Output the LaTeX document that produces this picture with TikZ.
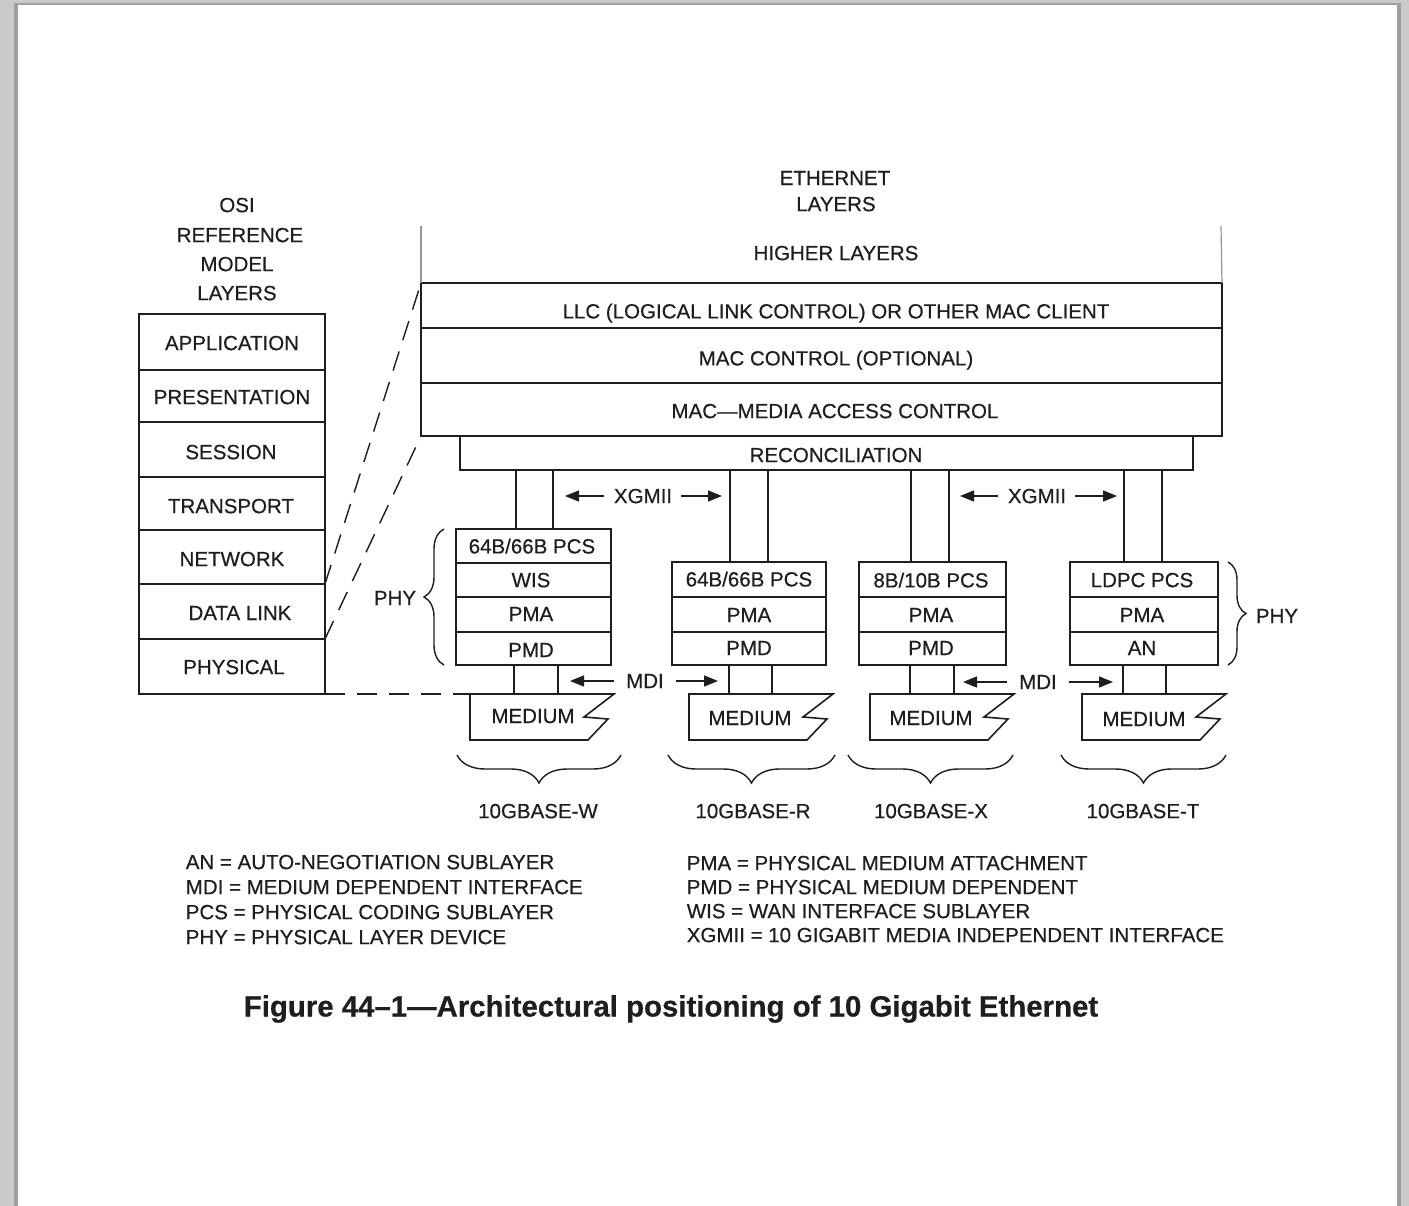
\documentclass[tikz,border=0pt]{standalone}
\usepackage{fontspec}
\setmainfont{Liberation Sans}[FakeBold=0.5]
\usetikzlibrary{decorations.pathreplacing,arrows.meta}
\definecolor{ink}{RGB}{30,30,30}
\definecolor{pagegrey}{RGB}{202,202,202}
\definecolor{edgegrey}{RGB}{160,160,160}
\definecolor{hlgrey}{RGB}{150,150,150}
\begin{document}
\begin{tikzpicture}[x=1pt,y=-1pt,line width=1.6pt,color=ink,
  box/.style={draw,rectangle,inner sep=0pt,outer sep=0pt},
  lbl/.style={inner sep=0pt,text depth=0pt,font=\fontsize{20.5}{24}\selectfont},
  leg/.style={lbl,anchor=west},
  captext/.style={inner sep=0pt,font=\fontsize{29.4}{34}\selectfont\bfseries},
  dashline/.style={line width=1.4pt,dash pattern=on 20pt off 12pt},
  arr/.style={line width=1.4pt,-{Triangle[length=14pt,width=11pt]}},
  hl/.style={draw=hlgrey,line width=1.2pt},
  brc/.style={line width=1.4pt,decorate,decoration={brace,amplitude=#1}}]

% page
\fill[pagegrey] (0,0) rectangle (1409,1206);
\fill[edgegrey] (14,3) rectangle (1401,1206);
\fill[white] (18,5) rectangle (1397,1206);
\useasboundingbox (0,0) rectangle (1409,1206);

% OSI heading
\node[lbl] (osi1) at (237,205) {OSI};
\node[lbl] (osi2) at (240,235) {REFERENCE};
\node[lbl] (osi3) at (237,264) {MODEL};
\node[lbl] (osi4) at (237,293) {LAYERS};

% OSI stack
\node[box,minimum width=186,minimum height=56] (app)   at (232,342)   {};
\node[box,minimum width=186,minimum height=52] (pres)  at (232,396)   {};
\node[box,minimum width=186,minimum height=55] (sess)  at (232,449.5) {};
\node[box,minimum width=186,minimum height=53] (trans) at (232,503.5) {};
\node[box,minimum width=186,minimum height=54] (net)   at (232,557)   {};
\node[box,minimum width=186,minimum height=55] (dl)    at (232,611.5) {};
\node[box,minimum width=186,minimum height=55] (phys)  at (232,666.5) {};
\node[lbl] (appt)   at (232,343) {APPLICATION};
\node[lbl] (prest)  at (232,397) {PRESENTATION};
\node[lbl] (sesst)  at (231,452) {SESSION};
\node[lbl] (transt) at (231,506) {TRANSPORT};
\node[lbl] (nett)   at (232,559) {NETWORK};
\node[lbl] (dlt)    at (240,613) {DATA LINK};
\node[lbl] (physt)  at (234,667) {PHYSICAL};

% Ethernet heading
\node[lbl] (eth1) at (835,178) {ETHERNET};
\node[lbl] (eth2) at (836,204) {LAYERS};
\node[lbl] (hight) at (836,253) {HIGHER LAYERS};

% Ethernet stack
\node[box,minimum width=801,minimum height=45] (llc)  at (821.5,305.5) {};
\node[box,minimum width=801,minimum height=55] (macc) at (821.5,355.5) {};
\node[box,minimum width=801,minimum height=53] (mac)  at (821.5,409.5) {};
\node[box,minimum width=733,minimum height=34] (recon) at (826.5,453) {};
\node[lbl] (llct)   at (836,311) {LLC (LOGICAL LINK CONTROL) OR OTHER MAC CLIENT};
\node[lbl] (macct)  at (836,358) {MAC CONTROL (OPTIONAL)};
\node[lbl] (mact)   at (835,411) {MAC---MEDIA ACCESS CONTROL};
\node[lbl] (recont) at (836,455) {RECONCILIATION};

% higher layers side lines
\coordinate (hlL) at (421,226);
\coordinate (hlR) at (1221,226);
\draw[hl] (hlL) -- (llc.north west);
\draw[hl] (hlR) -- (llc.north east);

% 10GBASE-W stack
\node[box,minimum width=155,minimum height=34] (pcsW) at (533.5,546)   {};
\node[box,minimum width=155,minimum height=34] (wisW) at (533.5,580)   {};
\node[box,minimum width=155,minimum height=35] (pmaW) at (533.5,614.5) {};
\node[box,minimum width=155,minimum height=33] (pmdW) at (533.5,648.5) {};
\node[lbl] (pcsWt) at (532,546) {64B/66B PCS};
\node[lbl] (wisWt) at (531,580) {WIS};
\node[lbl] (pmaWt) at (531,614) {PMA};
\node[lbl] (pmdWt) at (531,650) {PMD};

% 10GBASE-R stack
\node[box,minimum width=154,minimum height=35] (pcsR) at (749,579.5) {};
\node[box,minimum width=154,minimum height=35] (pmaR) at (749,614.5) {};
\node[box,minimum width=154,minimum height=33] (pmdR) at (749,648.5) {};
\draw[line width=2.4pt] (pcsR.south west) -- (pcsR.south east);
\node[lbl] (pcsRt) at (749,579) {64B/66B PCS};
\node[lbl] (pmaRt) at (749,615) {PMA};
\node[lbl] (pmdRt) at (749,648) {PMD};

% 10GBASE-X stack
\node[box,minimum width=147,minimum height=35] (pcsX) at (932.5,579.5) {};
\node[box,minimum width=147,minimum height=35] (pmaX) at (932.5,614.5) {};
\node[box,minimum width=147,minimum height=33] (pmdX) at (932.5,648.5) {};
\node[lbl] (pcsXt) at (931,580) {8B/10B PCS};
\node[lbl] (pmaXt) at (931,615) {PMA};
\node[lbl] (pmdXt) at (931,648) {PMD};

% 10GBASE-T stack
\node[box,minimum width=148,minimum height=35] (pcsT) at (1144,579.5) {};
\node[box,minimum width=148,minimum height=35] (pmaT) at (1144,614.5) {};
\node[box,minimum width=148,minimum height=33] (anT)  at (1144,648.5) {};
\node[lbl] (pcsTt) at (1142,580) {LDPC PCS};
\node[lbl] (pmaTt) at (1142,615) {PMA};
\node[lbl] (anTt)  at (1142,648) {AN};

% XGMII line pairs
\foreach \xx/\tgt in {516/pcsW,553/pcsW,730/pcsR,768/pcsR,911/pcsX,949/pcsX,1124/pcsT,1162/pcsT}{
  \coordinate (xg) at (\xx,0);
  \draw (recon.south -| xg) -- (\tgt.north -| xg);
}

% XGMII labels and arrows
\node[lbl] (xg1) at (643,496) {XGMII};
\coordinate (xg1l) at (565,496);
\coordinate (xg1r) at (722,496);
\draw[arr] ([xshift=-9pt]xg1.west) -- (xg1l);
\draw[arr] ([xshift=8pt]xg1.east) -- (xg1r);
\node[lbl] (xg2) at (1037,496) {XGMII};
\coordinate (xg2l) at (960,496);
\coordinate (xg2r) at (1117,496);
\draw[arr] ([xshift=-9pt]xg2.west) -- (xg2l);
\draw[arr] ([xshift=8pt]xg2.east) -- (xg2r);

% Media
\coordinate (mW) at (470,694);
\coordinate (mR) at (689,694);
\coordinate (mX) at (870,694);
\coordinate (mT) at (1082,694);
\foreach \m in {mW,mR,mX,mT}{
  \draw[line join=miter] (\m) -- ++(144,0) -- ++(-30,23) -- ++(24,2) -- ++(-20,21) -- ++(-118,0) -- cycle;
}
\node[lbl] (medWt) at (533,716) {MEDIUM};
\node[lbl] (medRt) at (750,718) {MEDIUM};
\node[lbl] (medXt) at (931,718) {MEDIUM};
\node[lbl] (medTt) at (1144,719) {MEDIUM};

% MDI line pairs
\foreach \xx/\src/\med in {514/pmdW/mW,558/pmdW/mW,729/pmdR/mR,772/pmdR/mR,910/pmdX/mX,954/pmdX/mX,1123/anT/mT,1166/anT/mT}{
  \coordinate (md) at (\xx,0);
  \draw (\src.south -| md) -- (\med -| md);
}

% MDI labels and arrows
\node[lbl] (mdi1) at (645,681) {MDI};
\coordinate (mdi1l) at (570,681);
\coordinate (mdi1r) at (718,681);
\draw[arr] ([xshift=-11pt]mdi1.west) -- (mdi1l);
\draw[arr] ([xshift=11pt]mdi1.east) -- (mdi1r);
\node[lbl] (mdi2) at (1038,682) {MDI};
\coordinate (mdi2l) at (963,682);
\coordinate (mdi2r) at (1113,682);
\draw[arr] ([xshift=-11pt]mdi2.west) -- (mdi2l);
\draw[arr] ([xshift=11pt]mdi2.east) -- (mdi2r);

% dashed mapping lines
\draw[dashline] (net.south east) -- (llc.north west);
\draw[dashline] (dl.south east) -- (mac.south west);
\draw[dashline] (phys.south east) -- (mW);

% PHY braces
\coordinate (bl1) at (444,665);
\coordinate (bl2) at (444,529);
\draw[brc=20pt] (bl1) -- (bl2);
\node[lbl] (phyL) at (395,598) {PHY};
\coordinate (br1) at (1228,562);
\coordinate (br2) at (1228,665);
\draw[brc=18pt] (br1) -- (br2);
\node[lbl] (phyR) at (1277,616) {PHY};

% bottom braces
\coordinate (bW1) at (621,755); \coordinate (bW2) at (457,755);
\coordinate (bR1) at (835,755); \coordinate (bR2) at (668,755);
\coordinate (bX1) at (1013,755); \coordinate (bX2) at (848,755);
\coordinate (bT1) at (1226,755); \coordinate (bT2) at (1061,755);
\draw[brc=28pt] (bW1) -- (bW2);
\draw[brc=28pt] (bR1) -- (bR2);
\draw[brc=28pt] (bX1) -- (bX2);
\draw[brc=28pt] (bT1) -- (bT2);
\node[lbl] (gW) at (538,811) {10GBASE-W};
\node[lbl] (gR) at (753,811) {10GBASE-R};
\node[lbl] (gX) at (931,811) {10GBASE-X};
\node[lbl] (gT) at (1143,811) {10GBASE-T};

% legend
\node[leg] (lg1) at (185,862) {AN = AUTO-NEGOTIATION SUBLAYER};
\node[leg] (lg2) at (185,887) {MDI = MEDIUM DEPENDENT INTERFACE};
\node[leg] (lg3) at (185,912) {PCS = PHYSICAL CODING SUBLAYER};
\node[leg] (lg4) at (185,937) {PHY = PHYSICAL LAYER DEVICE};
\node[leg] (lg5) at (686,863) {PMA = PHYSICAL MEDIUM ATTACHMENT};
\node[leg] (lg6) at (686,887) {PMD = PHYSICAL MEDIUM DEPENDENT};
\node[leg] (lg7) at (686,911) {WIS = WAN INTERFACE SUBLAYER};
\node[leg] (lg8) at (686,935) {XGMII = 10 GIGABIT MEDIA INDEPENDENT INTERFACE};

% caption
\node[captext] (caption) at (671,1009) {Figure 44--1---Architectural positioning of 10 Gigabit Ethernet};
\end{tikzpicture}
\end{document}
